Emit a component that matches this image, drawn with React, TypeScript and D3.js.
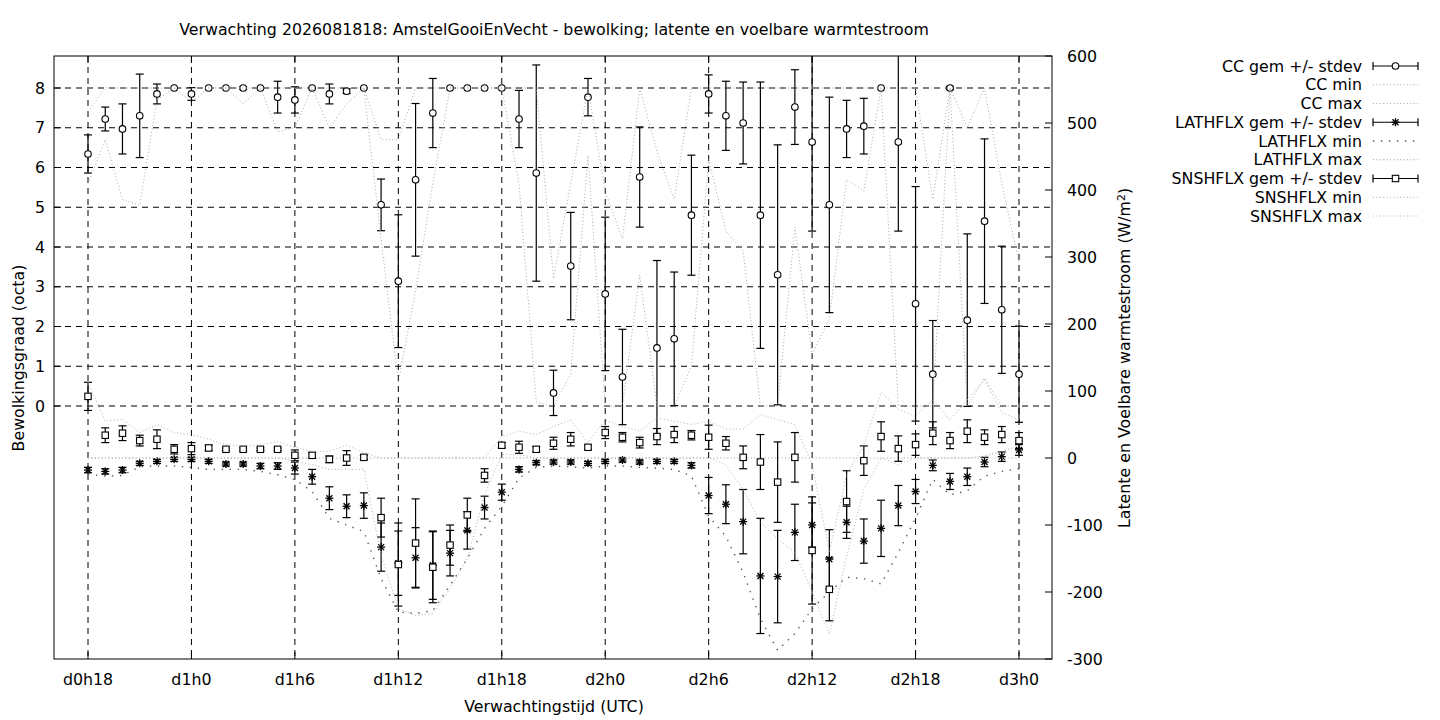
import React from "react";
import * as d3 from "d3";

// ---------- data (hours 18 .. 72) ----------
const hours = [18,19,20,21,22,23,24,25,26,27,28,29,30,31,32,33,34,35,36,37,38,39,40,41,42,43,44,45,46,47,48,49,50,51,52,53,54,55,56,57,58,59,60,61,62,63,64,65,66,67,68,69,70,71,72];
const tickHours = [18,24,30,36,42,48,54,60,66,72];
const tickLabels = ["d0h18","d1h0","d1h6","d1h12","d1h18","d2h0","d2h6","d2h12","d2h18","d3h0"];
const leftTicks = [0,1,2,3,4,5,6,7,8];
const rightTicks = [-300,-200,-100,0,100,200,300,400,500,600];

const ccMean = [6.34,7.22,6.97,7.3,7.85,8,7.85,8,8,8, 8,7.77,7.7,8,7.85,7.92,8,5.06,3.14,5.69, 7.37,8,8,8,8,7.22,5.86,0.33,3.52,7.77, 2.82,0.73,5.76,1.46,1.69,4.8,7.85,7.3,7.12,4.8, 3.3,7.52,6.64,5.06,6.97,7.04,8,6.64,2.57,0.8, 8,2.16,4.65,2.42,0.8];
const ccSd = [0.48,0.3,0.63,1.05,0.25,0,0.16,0,0,0.03, 0,0.4,0.33,0,0.25,0.06,0,0.65,1.67,1.92, 0.87,0,0,0,0,0.72,2.72,0.57,1.35,0.47, 1.93,1.2,1.26,2.2,1.68,1.51,0.48,0.87,1.03,3.35, 3.27,0.94,2.24,2.71,0.72,0.7,0,2.24,2.95,1.35, 0.04,2.17,2.07,1.6,1.21];
const ccMin = [5.6,6.7,5.2,5.05,7.7,8,7.65,8,8,7.6, 8,6.9,7.0,8,7.0,7.6,8,4.2,0.6,2.9, 5.6,8,8,8,8,5.6,0.1,0,0.8,6.3, 0,0,3.3,0,0,1.0,6.2,4.4,3.9,0, 0,4.5,1.3,2.2,5.7,5.4,8,0,0,0, 8,0,0.7,0,0];
const ccMax = [7.4,8,8,8,8,8,8,8,8,8, 8,8,8,8,8,8,8,6.7,6.7,8, 8,8,8,8,8,8,8,3.2,5.6,8, 5.4,4.2,8,6.4,5.2,8,8,8,8,8, 8,8,8,8,8,8,8,8,8,5.2, 8,7.0,8,5.6,3.6];

const latMean = [-18,-20,-18,-8,-5,-2,-2,-5,-9,-9, -12,-12,-15,-28,-60,-72,-71,-133,-157,-149, -160,-142,-108,-74,-51,-17,-7,-6,-6,-8, -5,-3,-6,-5,-5,-11,-56,-69,-95,-176, -177,-111,-100,-151,-96,-124,-105,-71,-50,-11, -35,-28,-6,2,12];
const latSd = [4,4,4,3,3,3,3,3,3,3, 4,5,9,11,17,17,19,36,48,45, 51,34,28,17,12,4,3,3,3,3, 3,3,3,3,3,4,27,29,48,86, 69,42,33,44,24,33,42,30,18,8, 12,13,7,7,8];
const latMin = [-24,-27,-26,-13,-12,-12,-14,-17,-17,-17, -20,-25,-32,-50,-90,-100,-110,-180,-230,-232, -228,-190,-150,-105,-72,-30,-14,-12,-13,-15, -12,-12,-14,-15,-17,-27,-87,-117,-171,-240, -287,-262,-225,-200,-178,-180,-188,-141,-90,-32, -55,-49,-27,-20,-16];
const latMax = [0,0,0,0,0,0,0,0,0,0, 0,0,0,0,0,0,0,0,0,0, 0,0,0,0,0,0,0,0,0,0, 0,0,0,0,0,0,0,0,0,0, 0,0,0,0,0,0,0,0,0,0, 0,0,3,10,18];

const snsMean = [92,34,37,26,28,13,14,15,13,13, 13,13,4,4,-2,0,1,-89,-159,-127, -163,-130,-85,-26,19,16,13,22,28,16, 38,31,23,32,35,34,31,22,1,-6, -36,1,-138,-196,-65,-4,32,14,20,37, 26,40,31,35,26];
const snsSd = [21,11,11,8,14,7,9,4,2,2, 2,2,8,4,5,11,3,29,62,66, 53,30,25,10,4,9,4,9,10,3, 9,7,8,12,12,7,18,10,17,41, 60,37,80,47,46,22,22,19,16,17, 12,17,11,12,12];
const snsMin = [0,0,0,0,0,0,0,0,0,0, 0,0,-5,-10,-17,-17,-17,-145,-225,-235, -232,-195,-150,-55,5,5,0,0,0,0, 0,0,0,0,0,0,0,-10,-47,-96, -121,-141,-200,-263,-147,-47,0,-10,0,0, 0,0,0,0,0];
const snsMax = [113,55,58,38,50,38,35,28,20,18, 20,24,16,10,10,19,8,0,0,0, 0,0,0,0,32,40,35,47,57,23, 57,47,40,60,55,50,55,43,43,65, 57,50,-10,-140,-25,20,98,73,62,87, 57,87,117,68,57];

const legendLabels = ["CC gem +/- stdev","CC min","CC max","LATHFLX gem +/- stdev","LATHFLX min","LATHFLX max","SNSHFLX gem +/- stdev","SNSHFLX min","SNSHFLX max"];

// ---------- layout ----------
const W = 1440, H = 720;
const L = 54, R = 1052, T = 56, B = 659;
const FONT = "'DejaVu Sans', Verdana, sans-serif";
const FS = 15.8;

const x = d3.scaleLinear().domain([18, 72]).range([88, 1019]);
const yL = d3.scaleLinear().domain([0, 8]).range([406, 88]);
const yR = d3.scaleLinear().domain([-300, 600]).range([659, 56]);

type Marker = "circle" | "star" | "square";

const dotted = {
  cc: { stroke: "#a8a8a8", width: 1, dash: "1,2.4" },
  latMin: { stroke: "#5a5a5a", width: 1.4, dash: "1.4,6.6" },
  latMax: { stroke: "#9a9a9a", width: 1, dash: "1,2.4" },
  sns: { stroke: "#b0b0b0", width: 1, dash: "1,2.4" },
};

function MarkerShape({ kind, cx, cy }: { kind: Marker; cx: number; cy: number }) {
  if (kind === "circle")
    return <circle cx={cx} cy={cy} r={3.3} fill="#fff" stroke="#000" strokeWidth={1.1} />;
  if (kind === "square")
    return <rect x={cx - 3.2} y={cy - 3.2} width={6.4} height={6.4} fill="#fff" stroke="#000" strokeWidth={1.1} />;
  const a = 4, b = 3;
  return (
    <g stroke="#000" strokeWidth={1.3}>
      <line x1={cx - a} y1={cy} x2={cx + a} y2={cy} />
      <line x1={cx} y1={cy - a} x2={cx} y2={cy + a} />
      <line x1={cx - b} y1={cy - b} x2={cx + b} y2={cy + b} />
      <line x1={cx - b} y1={cy + b} x2={cx + b} y2={cy - b} />
    </g>
  );
}

function ErrSeries({ mean, sd, y, kind }: { mean: number[]; sd: number[]; y: d3.ScaleLinear<number, number>; kind: Marker }) {
  return (
    <g>
      <g stroke="#000" strokeWidth={1.2}>
        {hours.map((h, i) => {
          if (sd[i] <= 0) return null;
          const cx = x(h);
          const y1 = y(mean[i] - sd[i]);
          const y2 = y(mean[i] + sd[i]);
          return (
            <g key={i}>
              <line x1={cx} y1={y1} x2={cx} y2={y2} />
              <line x1={cx - 4} y1={y1} x2={cx + 4} y2={y1} />
              <line x1={cx - 4} y1={y2} x2={cx + 4} y2={y2} />
            </g>
          );
        })}
      </g>
      {hours.map((h, i) => (
        <MarkerShape key={i} kind={kind} cx={x(h)} cy={y(mean[i])} />
      ))}
    </g>
  );
}

function DotLine({ vals, y, st }: { vals: number[]; y: d3.ScaleLinear<number, number>; st: { stroke: string; width: number; dash: string } }) {
  const gen = d3.line<number>().x((_, i) => x(hours[i])).y((v) => y(v));
  return <path d={gen(vals) || ""} fill="none" stroke={st.stroke} strokeWidth={st.width} strokeDasharray={st.dash} />;
}

export default function App() {
  const legendY = (i: number) => 66 + i * 18.75;
  const lx0 = 1373, lx1 = 1418, lxm = (lx0 + lx1) / 2;
  const legendKinds: (Marker | null)[] = ["circle", null, null, "star", null, null, "square", null, null];
  const legendStyles = [null, dotted.cc, dotted.cc, null, dotted.latMin, dotted.latMax, null, dotted.sns, dotted.sns];

  return (
    <svg width={W} height={H} style={{ position: "absolute", left: 0, top: 0, background: "#fff" }} fontFamily={FONT} fontSize={FS}>
      <defs>
        <clipPath id="plotclip">
          <rect x={L} y={T} width={R - L} height={B - T} />
        </clipPath>
      </defs>
      <rect x={0} y={0} width={W} height={H} fill="#fff" />

      {/* grid */}
      <g stroke="#000" strokeWidth={1} strokeDasharray="6,5">
        {tickHours.map((h) => (
          <line key={"gx" + h} x1={x(h)} y1={T} x2={x(h)} y2={B} />
        ))}
        {leftTicks.map((v) => (
          <line key={"gy" + v} x1={L} y1={yL(v)} x2={R} y2={yL(v)} />
        ))}
      </g>

      {/* ticks */}
      <g stroke="#000" strokeWidth={1}>
        {tickHours.map((h) => (
          <g key={"tx" + h}>
            <line x1={x(h)} y1={B} x2={x(h)} y2={B - 7} />
            <line x1={x(h)} y1={T} x2={x(h)} y2={T + 7} />
          </g>
        ))}
        {leftTicks.map((v) => (
          <line key={"tl" + v} x1={L} y1={yL(v)} x2={L + 7} y2={yL(v)} />
        ))}
        {rightTicks.map((v) => (
          <line key={"tr" + v} x1={R} y1={yR(v)} x2={R - 7} y2={yR(v)} />
        ))}
      </g>

      {/* series */}
      <g clipPath="url(#plotclip)">
        <ErrSeries mean={ccMean} sd={ccSd} y={yL} kind="circle" />
        <DotLine vals={ccMin} y={yL} st={dotted.cc} />
        <DotLine vals={ccMax} y={yL} st={dotted.cc} />
        <ErrSeries mean={latMean} sd={latSd} y={yR} kind="star" />
        <DotLine vals={latMin} y={yR} st={dotted.latMin} />
        <DotLine vals={latMax} y={yR} st={dotted.latMax} />
        <ErrSeries mean={snsMean} sd={snsSd} y={yR} kind="square" />
        <DotLine vals={snsMin} y={yR} st={dotted.sns} />
        <DotLine vals={snsMax} y={yR} st={dotted.sns} />
      </g>

      {/* frame */}
      <rect x={L} y={T} width={R - L} height={B - T} fill="none" stroke="#000" strokeWidth={1} />

      {/* tick labels */}
      <g fill="#000">
        {leftTicks.map((v) => (
          <text key={"ll" + v} x={45} y={yL(v)} dy="0.36em" textAnchor="end">{v}</text>
        ))}
        {rightTicks.map((v) => (
          <text key={"rl" + v} x={1067} y={yR(v)} dy="0.36em" textAnchor="start">{v}</text>
        ))}
        {tickHours.map((h, i) => (
          <text key={"xl" + h} x={x(h)} y={679} dy="0.36em" textAnchor="middle">{tickLabels[i]}</text>
        ))}
      </g>

      {/* titles */}
      <text x={554} y={29} dy="0.36em" textAnchor="middle">
        Verwachting 2026081818: AmstelGooiEnVecht - bewolking; latente en voelbare warmtestroom
      </text>
      <text x={554} y={706} dy="0.36em" textAnchor="middle">Verwachtingstijd (UTC)</text>
      <text transform={`translate(18,358) rotate(-90)`} dy="0.36em" textAnchor="middle">Bewolkingsgraad (octa)</text>
      <text transform={`translate(1124,358) rotate(-90)`} dy="0.36em" textAnchor="middle">
        Latente en Voelbare warmtestroom (W/m<tspan dy="-5" fontSize={11}>2</tspan><tspan dy="5">)</tspan>
      </text>

      {/* legend */}
      {legendLabels.map((lab, i) => {
        const ly = legendY(i);
        const kind = legendKinds[i];
        const st = legendStyles[i];
        return (
          <g key={"lg" + i}>
            <text x={1362} y={ly} dy="0.36em" textAnchor="end">{lab}</text>
            {kind ? (
              <g>
                <g stroke="#000" strokeWidth={1.2}>
                  <line x1={lx0} y1={ly} x2={lx1} y2={ly} />
                  <line x1={lx0} y1={ly - 4} x2={lx0} y2={ly + 4} />
                  <line x1={lx1} y1={ly - 4} x2={lx1} y2={ly + 4} />
                </g>
                <MarkerShape kind={kind} cx={lxm} cy={ly} />
              </g>
            ) : st ? (
              <line x1={lx0} y1={ly} x2={lx1} y2={ly} stroke={st.stroke} strokeWidth={st.width} strokeDasharray={st.dash} />
            ) : null}
          </g>
        );
      })}
    </svg>
  );
}
